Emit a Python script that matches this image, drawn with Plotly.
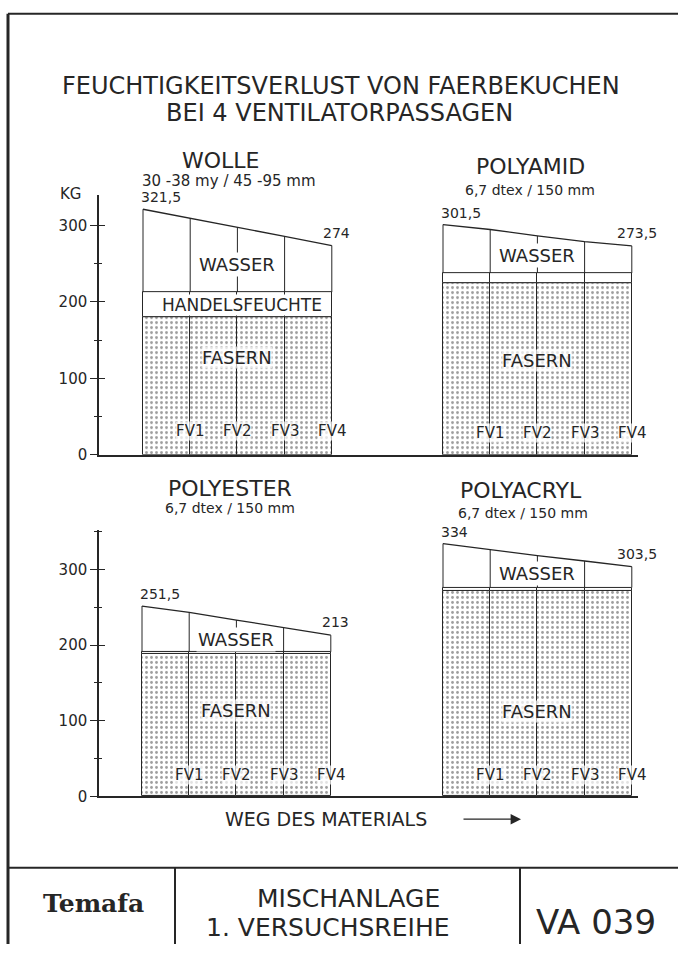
import plotly.graph_objects as go

# ---------------- data ----------------
STAGES = ["FV1", "FV2", "FV3", "FV4"]
Y_TICKS = [0, 100, 200, 300]
Y_TICK_LABELS = ["0", "100", "200", "300"]

# total weight (kg) at the start and after each ventilator passage
WOLLE_GESAMT = [321.5, 310, 298, 286, 274]
WOLLE_FASERN = [180, 180, 180, 180]
WOLLE_HANDELSFEUCHTE = [33, 33, 33, 33]

POLYAMID_GESAMT = [301.5, 295, 286.5, 279, 273.5]
POLYAMID_FASERN = [225, 225, 225, 225]
POLYAMID_HANDELSFEUCHTE = [13, 13, 13, 13]

POLYESTER_GESAMT = [251.5, 243, 233, 222.5, 213]
POLYESTER_FASERN = [188, 188, 188, 188]
POLYESTER_HANDELSFEUCHTE = [3, 3, 3, 3]

POLYACRYL_GESAMT = [334, 325.5, 318, 311, 303.5]
POLYACRYL_FASERN = [272, 272, 272, 272]
POLYACRYL_HANDELSFEUCHTE = [4, 4, 4, 4]

START_LABELS = {"WOLLE": "321,5", "POLYAMID": "301,5", "POLYESTER": "251,5", "POLYACRYL": "334"}
END_LABELS = {"WOLLE": "274", "POLYAMID": "273,5", "POLYESTER": "213", "POLYACRYL": "303,5"}

# ---------------- layout helpers ----------------
W, H = 678, 953
INK = "#262626"
FONT = "DejaVu Sans"


def px(x):
    return x / W


def py(y):
    return 1 - y / H


def label(text, x, y, size, family=FONT, **kw):
    d = dict(text=text, x=px(x), y=py(y), xref="paper", yref="paper", showarrow=False,
             xanchor="center", yanchor="middle",
             font=dict(family=family, size=size, color=INK))
    d.update(kw)
    return d


panels = [
    dict(name="WOLLE", sub="30 -38 my / 45 -95 mm", gesamt=WOLLE_GESAMT, fasern=WOLLE_FASERN,
         hf=WOLLE_HANDELSFEUCHTE, xa="x", ya="y", xk="xaxis", yk="yaxis",
         xdom=(99, 360), x0px=143, ydom=(197, 459), ymax=340, hf_label=True,
         title_px=(220, 162), sub_px=(229, 183), fas_shift=97, fv_shift=24, left=True),
    dict(name="POLYAMID", sub="6,7 dtex / 150 mm", gesamt=POLYAMID_GESAMT, fasern=POLYAMID_FASERN,
         hf=POLYAMID_HANDELSFEUCHTE, xa="x2", ya="y2", xk="xaxis2", yk="yaxis2",
         xdom=(360, 638), x0px=443, ydom=(197, 459), ymax=340, hf_label=False,
         title_px=(530, 168), sub_px=(530, 192), fas_shift=94, fv_shift=22, left=False),
    dict(name="POLYESTER", sub="6,7 dtex / 150 mm", gesamt=POLYESTER_GESAMT, fasern=POLYESTER_FASERN,
         hf=POLYESTER_HANDELSFEUCHTE, xa="x3", ya="y3", xk="xaxis3", yk="yaxis3",
         xdom=(99, 360), x0px=142, ydom=(535, 804), ymax=352, hf_label=False,
         title_px=(230, 493), sub_px=(230, 513), fas_shift=86, fv_shift=21, left=True),
    dict(name="POLYACRYL", sub="6,7 dtex / 150 mm", gesamt=POLYACRYL_GESAMT, fasern=POLYACRYL_FASERN,
         hf=POLYACRYL_HANDELSFEUCHTE, xa="x4", ya="y4", xk="xaxis4", yk="yaxis4",
         xdom=(360, 638), x0px=443, ydom=(535, 804), ymax=352, hf_label=False,
         title_px=(521, 495), sub_px=(523, 518), fas_shift=85, fv_shift=21, left=False),
]

UNIT_PX = 47.2  # pixels per passage segment

fig = go.Figure()
annotations = []
layout_axes = {}

for p in panels:
    n = len(STAGES)
    centers = [i + 0.5 for i in range(n)]
    hf_top = [f + h for f, h in zip(p["fasern"], p["hf"])]

    # fibre share (stippled)
    fig.add_trace(go.Bar(
        x=centers, y=p["fasern"], width=1, xaxis=p["xa"], yaxis=p["ya"],
        marker=dict(color="white",
                    pattern=dict(shape=".", fgcolor="#3a3a3a", bgcolor="white", size=5, solidity=0.25),
                    line=dict(color=INK, width=1)),
        showlegend=False, hoverinfo="skip"))
    # commercial moisture band
    fig.add_trace(go.Bar(
        x=centers, y=p["hf"], base=p["fasern"], width=1, xaxis=p["xa"], yaxis=p["ya"],
        marker=dict(color="white", line=dict(color=INK, width=1)),
        showlegend=False, hoverinfo="skip"))

    # water region: verticals + top line
    vx, vy = [], []
    for i in range(n + 1):
        base = hf_top[min(i, n - 1)]
        vx += [i, i, None]
        vy += [base, p["gesamt"][i], None]
    fig.add_trace(go.Scatter(x=vx, y=vy, mode="lines", xaxis=p["xa"], yaxis=p["ya"],
                             line=dict(color=INK, width=1), showlegend=False, hoverinfo="skip"))
    fig.add_trace(go.Scatter(x=list(range(n + 1)), y=p["gesamt"], mode="lines",
                             xaxis=p["xa"], yaxis=p["ya"],
                             line=dict(color=INK, width=1.3), showlegend=False, hoverinfo="skip"))

    # axes
    x0 = (p["xdom"][0] - p["x0px"]) / UNIT_PX
    x1 = (p["xdom"][1] - p["x0px"]) / UNIT_PX
    layout_axes[p["xk"]] = dict(domain=[px(p["xdom"][0]), px(p["xdom"][1])], range=[x0, x1],
                                anchor=p["ya"], showline=True, linecolor=INK, linewidth=1.5,
                                showgrid=False, zeroline=False, showticklabels=False, ticks="",
                                fixedrange=True)
    ydomain = [py(p["ydom"][1]), py(p["ydom"][0])]
    if p["left"]:
        layout_axes[p["yk"]] = dict(domain=ydomain, range=[0, p["ymax"]], anchor=p["xa"],
                                    showline=True, linecolor=INK, linewidth=1.5,
                                    showgrid=False, zeroline=False,
                                    tickmode="array", tickvals=Y_TICKS, ticktext=Y_TICK_LABELS,
                                    ticks="outside", ticklen=7, tickwidth=1.2, tickcolor=INK,
                                    minor=dict(ticks="outside", ticklen=3, dtick=50, tick0=0,
                                               tickcolor=INK, tickwidth=1.2),
                                    tickfont=dict(family=FONT, size=15, color=INK),
                                    fixedrange=True)
    else:
        layout_axes[p["yk"]] = dict(domain=ydomain, range=[0, p["ymax"]], anchor=p["xa"],
                                    visible=False, fixedrange=True)

    # titles
    annotations.append(label(p["name"], p["title_px"][0], p["title_px"][1], 22))
    annotations.append(label(p["sub"], p["sub_px"][0], p["sub_px"][1], 15 if p["ya"] == "y" else 14))
    # start / end values
    annotations.append(dict(text=START_LABELS[p["name"]], x=0, y=p["gesamt"][0], xref=p["xa"], yref=p["ya"],
                            xanchor="left", yanchor="bottom", xshift=-4, yshift=2, showarrow=False,
                            font=dict(family=FONT, size=14, color=INK)))
    annotations.append(dict(text=END_LABELS[p["name"]], x=n, y=p["gesamt"][-1], xref=p["xa"], yref=p["ya"],
                            xanchor="center", yanchor="bottom", xshift=5, yshift=3, showarrow=False,
                            font=dict(family=FONT, size=14, color=INK)))
    # region labels
    annotations.append(dict(text="WASSER", x=n / 2, y=(hf_top[-1] + p["gesamt"][-1]) / 2,
                            xref=p["xa"], yref=p["ya"], yshift=4, showarrow=False,
                            xanchor="center", yanchor="middle",
                            bgcolor="white", borderpad=1,
                            font=dict(family=FONT, size=18, color=INK)))
    if p["hf_label"]:
        annotations.append(dict(text="HANDELSFEUCHTE", x=n / 2 + 0.1,
                                y=(p["fasern"][0] + hf_top[0]) / 2,
                                xref=p["xa"], yref=p["ya"], showarrow=False,
                                xanchor="center", yanchor="middle",
                                bgcolor="white", borderpad=0,
                                font=dict(family=FONT, size=17, color=INK)))
    annotations.append(dict(text="FASERN", x=n / 2, y=0, yshift=p["fas_shift"],
                            xref=p["xa"], yref=p["ya"], showarrow=False,
                            xanchor="center", yanchor="middle",
                            bgcolor="rgba(255,255,255,0.7)", borderpad=0,
                            font=dict(family=FONT, size=18, color=INK)))
    for i, s in enumerate(STAGES):
        annotations.append(dict(text=s, x=i + 1, y=0, yshift=p["fv_shift"],
                                xref=p["xa"], yref=p["ya"], showarrow=False,
                                xanchor="center", yanchor="middle",
                                bgcolor="rgba(255,255,255,0.7)", borderpad=0,
                                font=dict(family=FONT, size=15, color=INK)))

# overlay axes so that the y ticks cross the axis line
for ov, base_y, base_x, ymax in [("yaxis5", "y", "x", 340), ("yaxis6", "y3", "x3", 352)]:
    layout_axes[ov] = dict(overlaying=base_y, anchor=base_x, range=[0, ymax],
                           showline=False, showgrid=False, zeroline=False,
                           tickmode="array", tickvals=Y_TICKS, showticklabels=False,
                           ticks="inside", ticklen=6, tickwidth=1.2, tickcolor=INK,
                           minor=dict(ticks="inside", ticklen=3, dtick=50, tick0=0,
                                      tickcolor=INK, tickwidth=1.2),
                           fixedrange=True)
    fig.add_trace(go.Scatter(x=[None], y=[None], xaxis=base_x, yaxis="y" + ov[5:],
                             showlegend=False, hoverinfo="skip"))

# unit label
annotations.append(label("KG", 70, 196, 15))
# main title (two lines)
annotations.append(label("FEUCHTIGKEITSVERLUST VON FAERBEKUCHEN", 341, 87, 24))
annotations.append(label("BEI 4 VENTILATORPASSAGEN", 339, 114, 24))
# x caption + arrow
annotations.append(label("WEG DES MATERIALS", 326, 827, 19))
annotations.append(dict(text="", x=px(521), y=py(827), ax=-59, ay=0,
                        xref="paper", yref="paper", axref="pixel", ayref="pixel",
                        showarrow=True, arrowhead=2, arrowsize=1.6, arrowwidth=1.3, arrowcolor=INK))
# title block
annotations.append(label("<b>Temafa</b>", 93, 912, 25, family="DejaVu Serif"))
annotations.append(label("MISCHANLAGE", 348, 907, 25))
annotations.append(label("1. VERSUCHSREIHE", 328, 936, 25))
annotations.append(label("VA 039", 596, 931, 34))

shapes = [
    dict(type="line", xref="paper", yref="paper", x0=px(8), x1=px(678), y0=py(14), y1=py(14),
         line=dict(color=INK, width=2)),
    dict(type="line", xref="paper", yref="paper", x0=px(8), x1=px(8), y0=py(14), y1=py(953),
         line=dict(color=INK, width=3)),
    dict(type="line", xref="paper", yref="paper", x0=px(8), x1=px(678), y0=py(876), y1=py(876),
         line=dict(color=INK, width=2)),
    dict(type="line", xref="paper", yref="paper", x0=px(175), x1=px(175), y0=py(876), y1=py(953),
         line=dict(color=INK, width=2)),
    dict(type="line", xref="paper", yref="paper", x0=px(520), x1=px(520), y0=py(876), y1=py(953),
         line=dict(color=INK, width=2)),
]

fig.update_layout(
    width=W, height=H, margin=dict(l=0, r=0, t=0, b=0),
    paper_bgcolor="white", plot_bgcolor="rgba(0,0,0,0)",
    barmode="overlay", bargap=0, showlegend=False,
    annotations=annotations, shapes=shapes,
    **layout_axes,
)

fig.write_html("out.html", config={"displayModeBar": False},
               post_script="document.body.style.margin='0';document.body.style.overflow='hidden';")
